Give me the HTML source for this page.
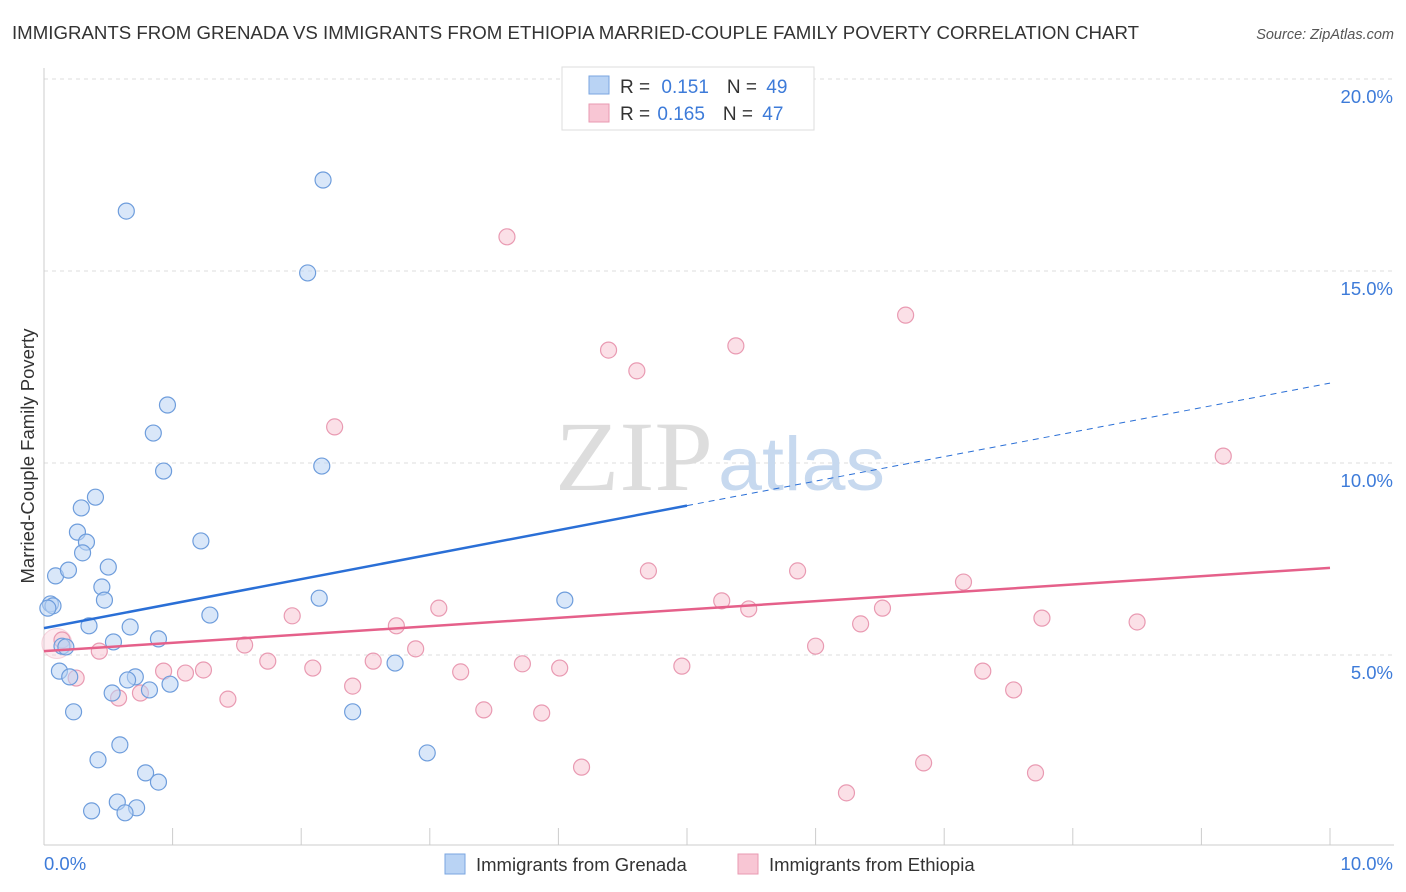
<!DOCTYPE html>
<html><head><meta charset="utf-8"><style>
body{margin:0;background:#fff;font-family:"Liberation Sans",sans-serif;}
svg{display:block}
</style></head><body>
<svg id="chart" width="1406" height="892" viewBox="0 0 1406 892" xmlns="http://www.w3.org/2000/svg">
<text x="12" y="39" font-size="18.6" fill="#333" textLength="1127" lengthAdjust="spacingAndGlyphs">IMMIGRANTS FROM GRENADA VS IMMIGRANTS FROM ETHIOPIA MARRIED-COUPLE FAMILY POVERTY CORRELATION CHART</text>
<text x="1394" y="39" font-size="14.5" fill="#555" font-style="italic" text-anchor="end">Source: ZipAtlas.com</text>
<g id="grid"></g>
<g>
<text x="555" y="490" font-family="Liberation Serif,serif" font-size="100" fill="#ddd" textLength="158" lengthAdjust="spacingAndGlyphs">ZIP</text>
<text x="718" y="490" font-size="76" fill="#c7d9ef" textLength="167" lengthAdjust="spacingAndGlyphs">atlas</text>
</g>
<g id="axes"></g>
<g id="marks"></g>
<text transform="translate(34,456) rotate(-90)" font-size="18.5" fill="#333" text-anchor="middle">Married-Couple Family Poverty</text>
<g>
<rect x="562" y="67" width="252" height="63" fill="#fff" stroke="#ddd"/>
<rect x="589" y="76" width="20" height="18" fill="#b9d3f4" stroke="#7aa6e0"/>
<text x="620" y="93" font-size="19" fill="#333">R = <tspan fill="#3d7bd9" dx="6">0.151</tspan><tspan dx="18">N = </tspan><tspan fill="#3d7bd9" dx="4">49</tspan></text>
<rect x="589" y="104" width="20" height="18" fill="#f8c6d4" stroke="#e99ab2"/>
<text x="620" y="120" font-size="19" fill="#333">R = <tspan fill="#3d7bd9" dx="2">0.165</tspan><tspan dx="18">N = </tspan><tspan fill="#3d7bd9" dx="4">47</tspan></text>
</g>
<g>
<rect x="445" y="854" width="20" height="20" fill="#b9d3f4" stroke="#7aa6e0"/>
<text x="476" y="871" font-size="18.5" fill="#333">Immigrants from Grenada</text>
<rect x="738" y="854" width="20" height="20" fill="#f8c6d4" stroke="#e99ab2"/>
<text x="769" y="871" font-size="18.5" fill="#333">Immigrants from Ethiopia</text>
</g>
</svg>
<script>
const blueX=[0.64,2.17,2.05,0.96,0.85,0.93,2.16,0.40,0.29,0.26,0.33,0.30,1.22,0.09,0.19,0.50,0.45,0.47,0.05,0.07,0.03,2.14,4.05,1.29,0.35,0.67,0.89,0.54,0.14,0.17,0.12,0.20,0.71,0.65,0.98,0.82,0.53,2.73,0.23,2.40,0.59,0.42,2.98,0.79,0.89,0.57,0.37,0.72,0.63];
const blueY=[16.56,17.37,14.95,11.51,10.78,9.79,9.92,9.11,8.83,8.20,7.94,7.66,7.97,7.06,7.21,7.29,6.77,6.43,6.33,6.28,6.22,6.48,6.43,6.04,5.76,5.73,5.42,5.34,5.23,5.21,4.58,4.43,4.43,4.35,4.24,4.09,4.01,4.79,3.52,3.52,2.66,2.27,2.45,1.93,1.69,1.17,0.94,1.02,0.89];
const pinkX=[3.60,6.70,4.39,5.38,4.61,2.26,9.17,4.70,5.86,7.15,3.07,5.27,5.48,6.52,1.93,6.35,7.76,8.50,2.74,0.14,0.43,1.56,2.89,6.00,1.74,2.56,2.09,3.72,4.01,4.96,3.24,0.93,1.10,1.24,0.25,7.30,2.40,0.58,0.75,1.43,7.54,3.42,3.87,4.18,6.84,7.71,6.24];
const pinkY=[15.89,13.85,12.94,13.05,12.40,10.94,10.18,7.19,7.19,6.90,6.22,6.41,6.20,6.22,6.02,5.81,5.96,5.86,5.76,5.39,5.10,5.26,5.16,5.23,4.84,4.84,4.66,4.77,4.66,4.71,4.56,4.58,4.53,4.61,4.40,4.58,4.19,3.88,4.01,3.85,4.09,3.57,3.49,2.08,2.19,1.93,1.41];
const blueTrend=[5.70,12.08];
const pinkTrend=[5.10,7.27];
const yTicks=[5,10,15,20];
const yTickLabels=["5.0%","10.0%","15.0%","20.0%"];
const xTickCount=10;
const xTickLabels=["0.0%","10.0%"];
const NS="http://www.w3.org/2000/svg";
const X0=44,X1=1330,Ybase=847,PXY=38.4;
function sx(v){return X0+(X1-X0)*v/10;}
function sy(v){return Ybase-v*PXY;}
function mk(tag,attrs,parent){const e=document.createElementNS(NS,tag);for(const k in attrs)e.setAttribute(k,attrs[k]);parent.appendChild(e);return e;}
const grid=document.getElementById('grid'),axes=document.getElementById('axes'),marks=document.getElementById('marks');
yTicks.forEach((t,i)=>{
 const l=mk('line',{x1:X0,x2:1394,y1:sy(t),y2:sy(t),stroke:'#ddd','stroke-dasharray':'4,4'},grid);
 
 
 const tx=mk('text',{x:1393,y:sy(t)+24,'font-size':18.5,fill:'#3d7bd9','text-anchor':'end'},axes);
 tx.textContent=yTickLabels[i];
 
 
});
let a=mk('line',{x1:X0,x2:X0,y1:68,y2:845,stroke:'#ccc'},axes);


a=mk('line',{x1:X0,x2:1394,y1:845,y2:845,stroke:'#ccc'},axes);


for(let i=0;i<=xTickCount;i++){
 const t=mk('line',{x1:sx(i),x2:sx(i),y1:828,y2:845,stroke:'#ccc'},axes);
 
 
}
let xl=mk('text',{x:44,y:870,'font-size':18.5,fill:'#3d7bd9'},axes);xl.textContent=xTickLabels[0];


xl=mk('text',{x:1393,y:870,'font-size':18.5,fill:'#3d7bd9','text-anchor':'end'},axes);xl.textContent=xTickLabels[1];


let big=mk('circle',{cx:sx(0.1),cy:sy(5.3),r:15,fill:'#f8c6d4','fill-opacity':0.35,stroke:'#eeb0c2','stroke-opacity':0.5},marks);


pinkX.forEach((x,i)=>{
 const c=mk('circle',{cx:sx(x),cy:sy(pinkY[i]),r:8,fill:'#f8c6d4','fill-opacity':0.55,stroke:'#e99ab2','stroke-width':1.2},marks);
 
 
});
blueX.forEach((x,i)=>{
 const c=mk('circle',{cx:sx(x),cy:sy(blueY[i]),r:8,fill:'#b9d3f4','fill-opacity':0.55,stroke:'#6e9ddc','stroke-width':1.2},marks);
 
 
});
const bm=blueTrend[0]+(blueTrend[1]-blueTrend[0])*0.5;
let tl=mk('line',{x1:sx(0),y1:sy(blueTrend[0]),x2:sx(5),y2:sy(bm),stroke:'#2a6fd6','stroke-width':2.5},marks);


tl=mk('line',{x1:sx(5),y1:sy(bm),x2:sx(10),y2:sy(blueTrend[1]),stroke:'#2a6fd6','stroke-width':1,'stroke-dasharray':'6,5'},marks);


tl=mk('line',{x1:sx(0),y1:sy(pinkTrend[0]),x2:sx(10),y2:sy(pinkTrend[1]),stroke:'#e5608a','stroke-width':2.5},marks);


</script>
</body></html>
